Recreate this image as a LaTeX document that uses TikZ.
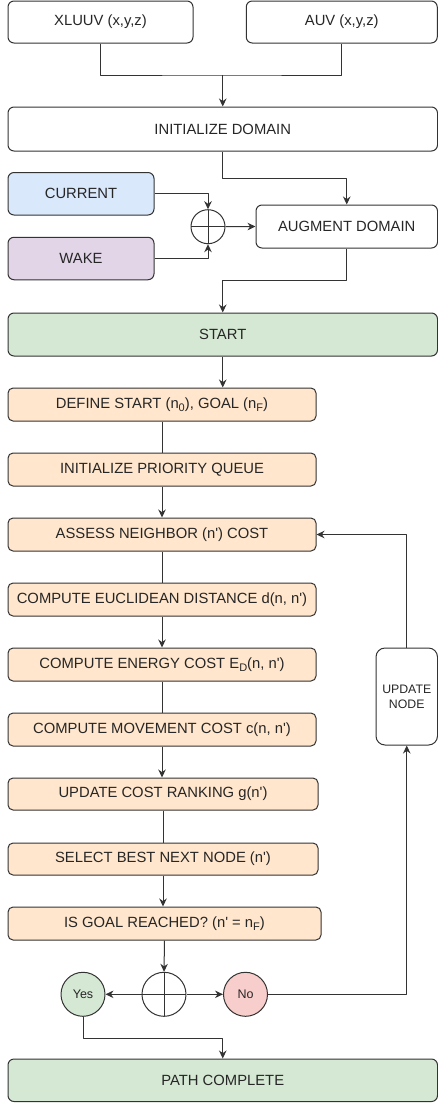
\documentclass[tikz,border=0pt]{standalone}
\usepackage{fontspec}
\setmainfont{Liberation Sans}
\usepackage{tikz}
\usetikzlibrary{arrows.meta}
\definecolor{lineclr}{HTML}{333333}
\definecolor{bluefill}{HTML}{DAE8FC}
\definecolor{purplefill}{HTML}{E1D5E7}
\definecolor{greenfill}{HTML}{D5E8D4}
\definecolor{orangefill}{HTML}{FFE6CC}
\definecolor{redfill}{HTML}{F8CECC}
\newcommand{\nprime}{n\textquotesingle}
\newcommand{\lowidx}[1]{\raisebox{-0.35ex}{\fontsize{11}{11}\selectfont#1}}

\begin{document}
\begin{tikzpicture}[x=1pt,y=-1pt,line join=round,>={Stealth[length=8pt,width=7.5pt]},
box/.style={draw=lineclr,line width=1pt,rounded corners=6pt,inner sep=0pt,font=\fontsize{14.8}{17}\selectfont,text=black!85},
stepbox/.style={box,fill=orangefill,rounded corners=5pt,minimum height=33pt},
sumnode/.style={circle,draw=lineclr,line width=1pt,inner sep=0pt,path picture={\draw[lineclr,line width=1pt] (path picture bounding box.north)--(path picture bounding box.south) (path picture bounding box.west)--(path picture bounding box.east);}},
decision/.style={circle,draw=lineclr,line width=1pt,minimum size=44pt,inner sep=0pt,font=\fontsize{12.5}{14}\selectfont,text=black!85},
link/.style={draw=lineclr,line width=1pt}]
\useasboundingbox (0,0) rectangle (438,1106);
\node[box,minimum width=185pt,minimum height=42pt] (xluuv) at (100.5,22) {XLUUV (x,y,z)};
\node[box,minimum width=191pt,minimum height=42pt] (auv) at (341.75,22) {AUV (x,y,z)};
\node[box,minimum width=429.5pt,minimum height=44pt] (initdom) at (222.75,129) {INITIALIZE DOMAIN};
\node[box,fill=bluefill,minimum width=146pt,minimum height=42.5pt] (current) at (81,193.75) {CURRENT};
\node[box,fill=purplefill,minimum width=146pt,minimum height=42.5pt] (wake) at (81,258.5) {WAKE};
\node[sumnode,minimum size=34pt] (sumdom) at (208,226.7) {};
\node[box,minimum width=181.5pt,minimum height=43pt] (augment) at (346.75,226.5) {AUGMENT DOMAIN};
\node[box,fill=greenfill,minimum width=429.5pt,minimum height=43pt] (start) at (222.75,334.5) {START};
\node[stepbox,minimum width=308pt] (define) at (162,404.5) {DEFINE START (n\lowidx{0}), GOAL (n\lowidx{F})};
\node[stepbox,minimum width=308pt] (initpq) at (162,469.5) {INITIALIZE PRIORITY QUEUE};
\node[stepbox,minimum width=308pt] (assess) at (162,534.5) {ASSESS NEIGHBOR (\nprime) COST};
\node[stepbox,minimum width=308pt] (eucl) at (162,599.5) {COMPUTE EUCLIDEAN DISTANCE d(n, \nprime)};
\node[stepbox,minimum width=308pt] (energy) at (162,664.5) {COMPUTE ENERGY COST E\lowidx{D}(n, \nprime)};
\node[stepbox,minimum width=308pt] (movement) at (162,729.5) {COMPUTE MOVEMENT COST c(n, \nprime)};
\node[stepbox,minimum width=310pt,minimum height=32pt] (updcost) at (163,794) {UPDATE COST RANKING g(\nprime)};
\node[stepbox,minimum width=310pt,minimum height=32pt] (select) at (163,859) {SELECT BEST NEXT NODE (\nprime)};
\node[stepbox,minimum width=313pt] (isgoal) at (164.5,923.5) {IS GOAL REACHED? (\nprime{} = n\lowidx{F})};
\node[sumnode,minimum size=44pt] (sumgoal) at (164,994.3) {};
\node[decision,fill=greenfill] (yes) at (83,994.3) {Yes};
\node[decision,fill=redfill] (no) at (245.5,994.3) {No};
\node[box,rounded corners=9pt,minimum width=61.5pt,minimum height=97pt,align=center,font=\fontsize{12.3}{15}\selectfont] (updnode) at (406.75,696.5) {UPDATE\\NODE};
\node[box,fill=greenfill,minimum width=429.5pt,minimum height=42.5pt] (pathc) at (222.75,1080.25) {PATH COMPLETE};
\coordinate (inmerge) at (initdom.north |- 0,75);
\coordinate (inbend) at (initdom.south |- 0,178);
\coordinate (augbend) at (augment.south |- 0,280.7);
\coordinate (yesbend) at (yes.south |- 0,1038);
\draw[link] (xluuv.south) |- (inmerge) -| (auv.south);
\draw[link,->] (inmerge) -- (initdom.north);
\draw[link,->] (initdom.south) -- (inbend) -| (augment.north);
\draw[link,->] (current.east) -| (sumdom.north);
\draw[link,->] (wake.east) -| (sumdom.south);
\draw[link,->] (sumdom.east) -- (augment.west);
\draw[link,->] (augment.south) -- (augbend) -| (start.north);
\draw[link,->] (start.south) -- (start.south |- define.north);
\draw[link] (define) -- (initpq);
\draw[link,->] (initpq) -- (assess);
\draw[link] (assess) -- (eucl);
\draw[link,->] (eucl) -- (energy);
\draw[link] (energy) -- (movement);
\draw[link,->] (movement.south) -- (movement.south |- updcost.north);
\draw[link] (updcost) -- (select);
\draw[link,->] (select.south) -- (select.south |- isgoal.north);
\draw[link,->] (isgoal.south) -- (sumgoal.north);
\draw[link,->] (sumgoal.west) -- (yes.east);
\draw[link,->] (sumgoal.east) -- (no.west);
\draw[link,->] (no.east) -| (updnode.south);
\draw[link,->] (updnode.north) |- (assess.east);
\draw[link,->] (yes.south) -- (yesbend) -| (pathc.north);
\end{tikzpicture}
\end{document}
